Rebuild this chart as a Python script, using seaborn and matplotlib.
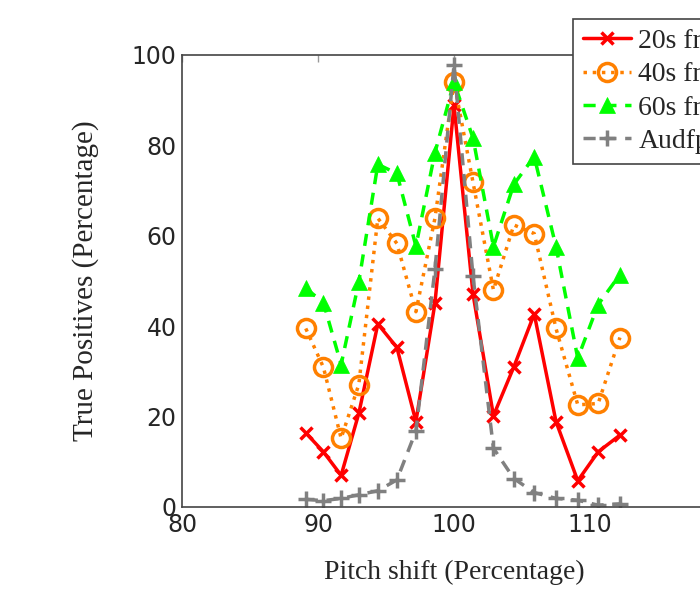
import pandas as pd
import matplotlib
matplotlib.use("Agg")
import matplotlib.pyplot as plt
import seaborn as sns

# pitch shift values (percentage)
pitch = [89.1, 90.4, 91.7, 93.0, 94.4, 95.8, 97.2, 98.6, 100.0,
         101.4, 102.9, 104.4, 105.9, 107.5, 109.1, 110.6, 112.2]

# true positives (percentage)
tp_20s = [16.4, 12.2, 7.0, 20.7, 40.5, 35.3, 18.9, 45.1, 88.9,
          47.1, 20.2, 31.0, 42.7, 18.9, 5.8, 12.2, 15.9]
tp_40s = [39.5, 30.9, 15.2, 27.1, 63.9, 58.3, 43.2, 63.9, 94.1,
          71.8, 48.0, 62.4, 60.5, 39.5, 22.6, 22.9, 37.5]
tp_60s = [48.4, 45.2, 31.5, 49.8, 75.8, 73.8, 57.7, 78.4, 94.0,
          81.6, 57.6, 71.4, 77.5, 57.6, 32.9, 44.8, 51.4]
tp_audf = [1.7, 1.4, 1.9, 2.7, 3.6, 6.0, 16.8, 52.6, 97.8,
           51.0, 13.0, 6.3, 3.2, 1.9, 1.5, 0.4, 0.7]

labels = ["20s fragments", "40s fragments", "60s fragments", "Audfprint"]

sns.set_style("white")

fig = plt.figure(figsize=(7, 5.94), dpi=100)
ax = fig.add_axes([182 / 700, 87 / 594, 544 / 700, 452 / 594])

sns.lineplot(x=pitch, y=tp_20s, ax=ax, color="#ff0000", linestyle="-",
             marker="x", markersize=9, markeredgecolor="#ff0000",
             markeredgewidth=2.5, linewidth=2.5, label=labels[0])
sns.lineplot(x=pitch, y=tp_40s, ax=ax, color="#ff8000", linestyle=":",
             marker="o", markersize=13, markerfacecolor="none",
             markeredgecolor="#ff8000", markeredgewidth=2.5, linewidth=2.5,
             label=labels[1])
sns.lineplot(x=pitch, y=tp_60s, ax=ax, color="#00ff00", linestyle=(0, (3.5, 2.5)),
             marker="^", markersize=12, markeredgecolor="#00ff00",
             markeredgewidth=0.5, linewidth=2.5, label=labels[2])
sns.lineplot(x=pitch, y=tp_audf, ax=ax, color="#808080", linestyle=(0, (3.5, 2.5)),
             marker="+", markersize=12, markeredgecolor="#808080",
             markeredgewidth=2.5, linewidth=2.5, label=labels[3])

ax.set_xlim(80, 120)
ax.set_ylim(0, 100)
ax.set_xticks([80, 90, 100, 110, 120])
ax.set_yticks([0, 20, 40, 60, 80, 100])
ax.tick_params(direction="in", length=5, width=1, color="#999999",
               top=True, right=True, labelsize=17, pad=4)
for s in ax.spines.values():
    s.set_color("#444444")
    s.set_linewidth(1.2)

ax.set_xlabel("Pitch shift (Percentage)", family="Liberation Serif", fontsize=20)
ax.set_ylabel("True Positives (Percentage)", family="Liberation Serif", fontsize=21)
ax.xaxis.set_label_coords(0.5, -(572 - 507) / 452, transform=ax.transAxes)
ax.yaxis.set_label_coords(-(182 - 86) / 544, 0.5, transform=ax.transAxes)
ax.xaxis.label.set_va("center")
ax.yaxis.label.set_va("center")

ax.get_legend().remove()
handles, labs = ax.get_legend_handles_labels()
leg = fig.legend(handles, labs, loc="upper left",
                 bbox_to_anchor=(573 / 700, 1 - 19 / 594),
                 prop={"family": "Liberation Serif", "size": 20},
                 frameon=True, fancybox=False, edgecolor="#444444",
                 borderaxespad=0, handlelength=1.75, handletextpad=0.25,
                 labelspacing=0.28, borderpad=0.35)
leg.get_frame().set_linewidth(1.2)
leg.get_frame().set_alpha(1)

fig.savefig("out.png", dpi=100)
